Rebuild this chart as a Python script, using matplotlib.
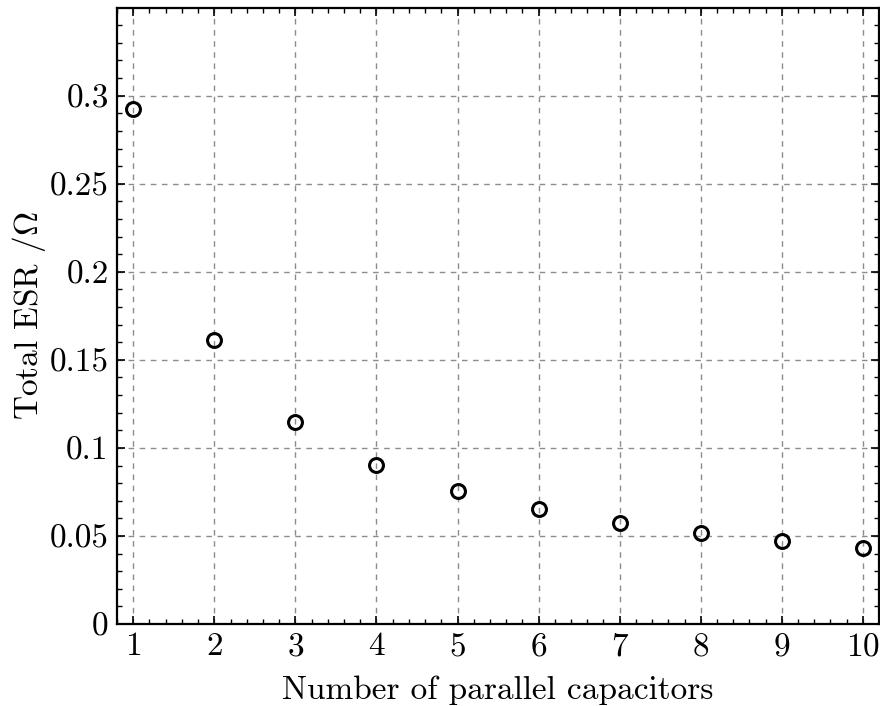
import numpy as np
import matplotlib
matplotlib.use('Agg')
import matplotlib.pyplot as plt
from matplotlib.ticker import MultipleLocator, AutoMinorLocator, FuncFormatter

# capacitor count vs total ESR
n_caps = [1, 2, 3, 4, 5, 6, 7, 8, 9, 10]
esr = [0.2926, 0.1614, 0.1148, 0.0903, 0.0756, 0.0653, 0.0574, 0.0517, 0.0472, 0.0432]

plt.rcParams['font.family'] = 'serif'
plt.rcParams['font.serif'] = ['cmr10']
plt.rcParams['mathtext.fontset'] = 'cm'
plt.rcParams['axes.formatter.use_mathtext'] = True
plt.rcParams['axes.unicode_minus'] = False

fig, ax = plt.subplots(figsize=(8.8, 7.06), dpi=100)
ax.plot(n_caps, esr, 'o', markerfacecolor='none', markeredgecolor='black',
        markersize=10, markeredgewidth=2.2)

ax.set_xlim(0.8, 10.2)
ax.set_ylim(0, 0.3499)
ax.xaxis.set_major_locator(MultipleLocator(1))
ax.xaxis.set_minor_locator(AutoMinorLocator(5))
ax.yaxis.set_major_locator(MultipleLocator(0.05))
ax.yaxis.set_minor_locator(AutoMinorLocator(5))
ax.yaxis.set_major_formatter(FuncFormatter(lambda v, p: '%g' % round(v, 4)))

ax.tick_params(which='both', direction='in', top=True, right=True, labelsize=24, pad=6)
ax.tick_params(which='major', length=6, width=1.2)
ax.tick_params(which='minor', length=3.5, width=1)
for s in ax.spines.values():
    s.set_linewidth(1.6)

ax.grid(True, which='major', linestyle=(0, (4, 4)), color='#8c8c8c', linewidth=1)

ax.set_xlabel('Number of parallel capacitors', fontsize=24, labelpad=10)
ax.set_ylabel(r'Total ESR /$\Omega$', fontsize=24, labelpad=1)

plt.subplots_adjust(left=0.133, right=0.999, top=0.989, bottom=0.116)
plt.savefig('out.png', dpi=100)
